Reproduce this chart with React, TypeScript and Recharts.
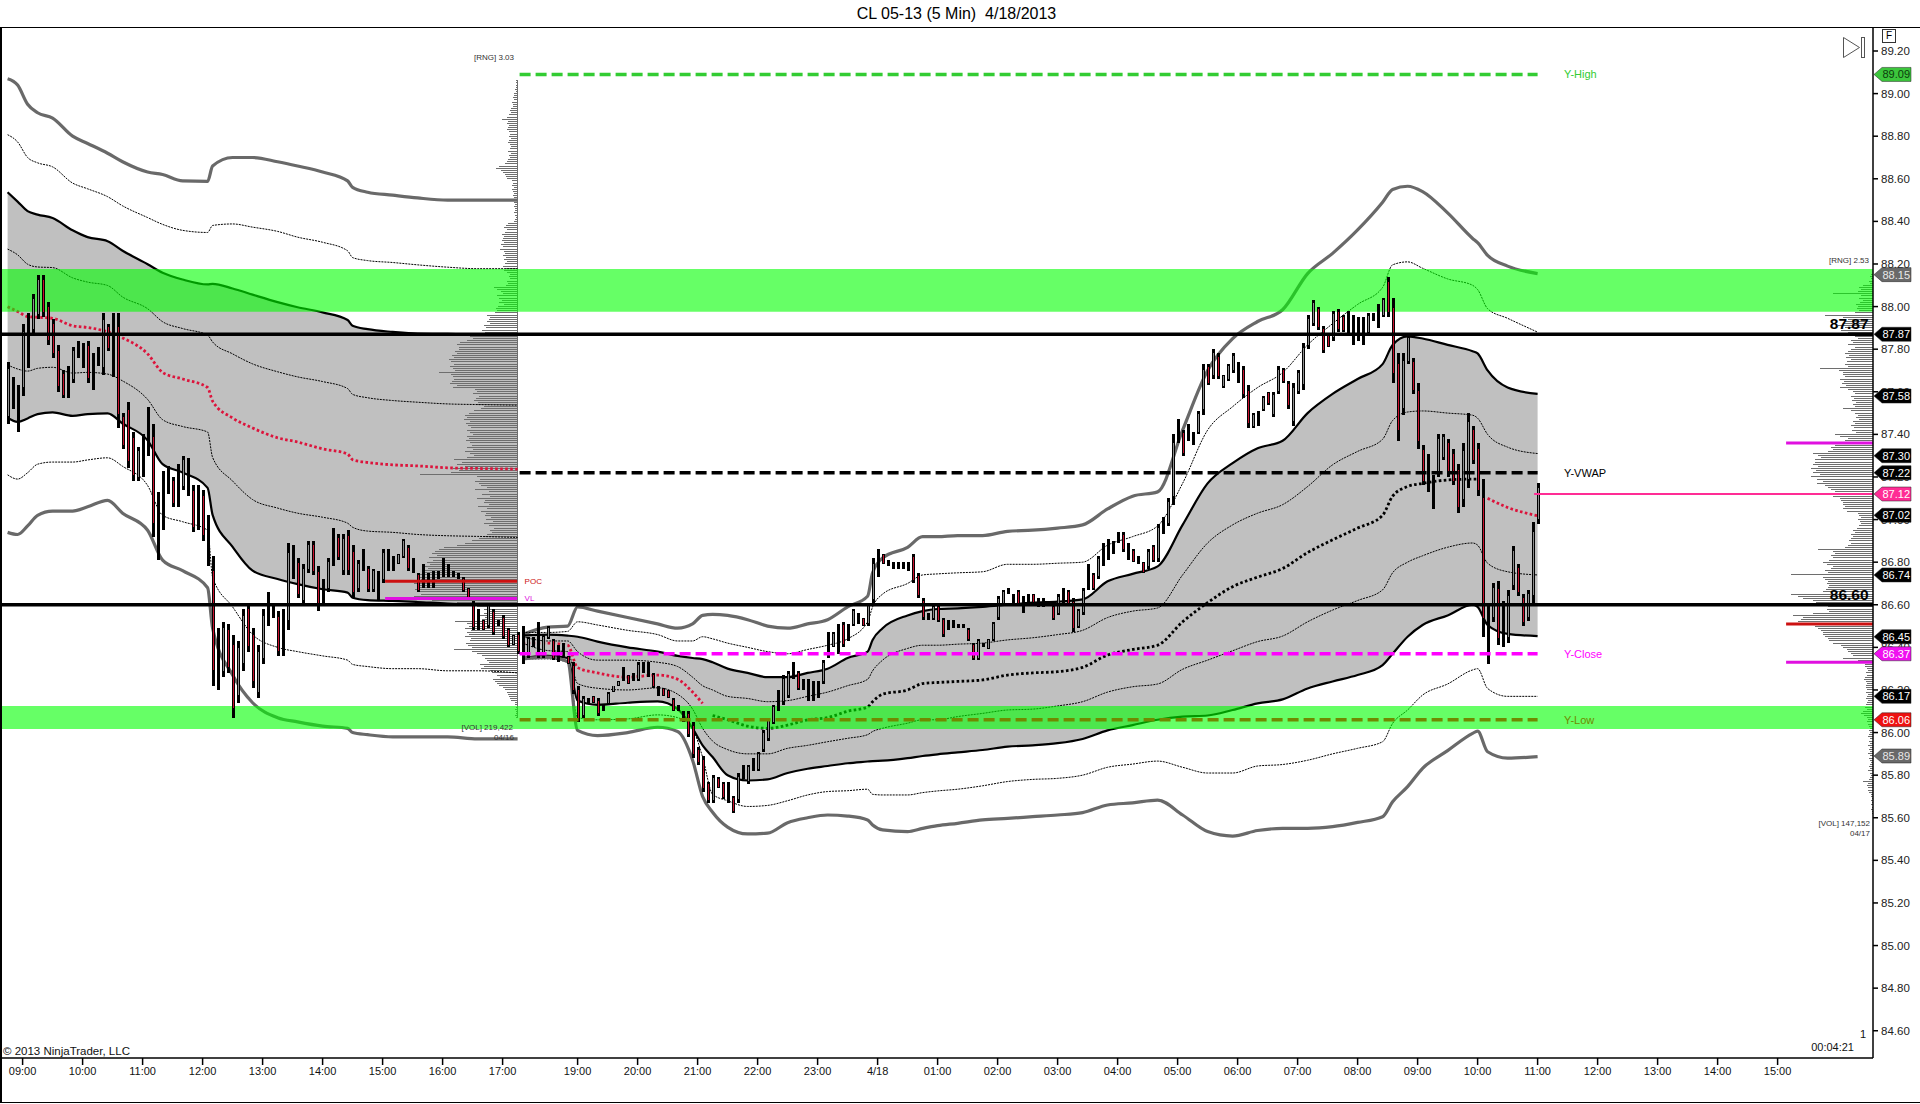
import React from 'react';
import { ComposedChart, Area, Bar, Line, XAxis, YAxis, ReferenceArea, ReferenceLine, ReferenceDot } from 'recharts';

const FONT = '"Liberation Sans", Arial, sans-serif';
const X_MIN = -1.12;
const X_MAX = 373.08;
const Y_MIN = 84.472;
const Y_MAX = 89.3127;

// one 5 min bar per index, 0 = 08:45 on 4/17
const highs = [
  87.74,87.67,87.63,87.92,87.97,88.06,88.15,88.15,88.02,87.94,
  87.82,87.70,87.72,87.81,87.84,87.83,87.84,87.78,87.81,87.97,
  87.92,87.97,87.97,87.50,87.55,87.41,87.34,87.40,87.53,87.45,
  87.13,87.23,87.25,87.20,87.26,87.30,87.29,87.16,87.16,87.14,
  87.02,86.83,86.49,86.52,86.51,86.46,86.43,86.58,86.61,86.49,
  86.41,86.58,86.66,86.61,86.57,86.58,86.89,86.88,86.82,86.79,
  86.90,86.90,86.78,86.72,86.82,86.96,86.93,86.93,86.95,86.88,
  86.81,86.86,86.78,86.77,86.76,86.86,86.86,86.83,86.84,86.91,
  86.88,86.82,86.75,86.79,86.75,86.76,86.76,86.82,86.79,86.76,
  86.75,86.73,86.68,86.62,86.58,86.53,86.61,86.58,86.53,86.55,
  86.49,86.46,86.47,86.50,86.45,86.45,86.52,86.46,86.50,86.44,
  86.41,86.42,86.36,86.33,86.22,86.17,86.16,86.17,86.16,86.13,
  86.19,86.22,86.24,86.31,86.27,86.28,86.33,86.33,86.33,86.28,
  86.22,86.21,86.20,86.16,86.13,86.10,86.10,86.05,85.93,85.89,
  85.77,85.80,85.79,85.77,85.77,85.70,85.81,85.85,85.85,85.88,
  85.91,86.01,86.07,86.13,86.20,86.27,86.29,86.33,86.29,86.25,
  86.25,86.24,86.24,86.34,86.47,86.47,86.51,86.52,86.51,86.58,
  86.56,86.54,86.61,86.82,86.86,86.84,86.81,86.80,86.80,86.80,
  86.80,86.84,86.75,86.63,86.56,86.60,86.60,86.54,86.53,86.53,
  86.51,86.51,86.49,86.42,86.44,86.42,86.44,86.52,86.64,86.67,
  86.68,86.65,86.67,86.64,86.65,86.65,86.63,86.63,86.62,86.60,
  86.65,86.68,86.67,86.63,86.58,86.68,86.79,86.75,86.83,86.89,
  86.91,86.90,86.94,86.94,86.89,86.86,86.83,86.80,86.86,86.88,
  86.98,87.01,87.10,87.40,87.47,87.42,87.45,87.41,87.51,87.73,
  87.73,87.80,87.78,87.68,87.73,87.78,87.74,87.72,87.63,87.50,
  87.51,87.58,87.60,87.60,87.72,87.71,87.65,87.64,87.70,87.83,
  87.96,88.03,88.00,87.91,87.87,87.98,87.99,87.96,87.98,87.96,
  87.95,87.95,87.97,87.97,88.01,88.04,88.14,88.04,87.78,87.78,
  87.87,87.76,87.64,87.35,87.31,87.21,87.40,87.40,87.38,87.33,
  87.26,87.36,87.50,87.44,87.36,87.19,86.61,86.70,86.71,86.62,
  86.67,86.875,86.79,86.65,86.67,86.99,87.17,
];
const lows = [
  87.45,87.52,87.41,87.58,87.71,87.87,87.94,87.95,87.82,87.76,
  87.60,87.57,87.57,87.64,87.76,87.71,87.64,87.61,87.72,87.68,
  87.79,87.67,87.43,87.33,87.24,87.18,87.18,87.20,87.30,86.92,
  86.81,86.95,87.12,87.06,87.06,87.14,87.11,86.94,86.95,86.90,
  86.78,86.22,86.20,86.26,86.28,86.07,86.14,86.29,86.38,86.21,
  86.16,86.32,86.50,86.54,86.36,86.36,86.48,86.72,86.63,86.60,
  86.75,86.74,86.57,86.60,86.66,86.78,86.81,86.74,86.74,86.63,
  86.66,86.76,86.66,86.66,86.62,86.70,86.76,86.76,86.79,86.82,
  86.76,86.75,86.66,86.68,86.68,86.68,86.72,86.73,86.73,86.73,
  86.72,86.66,86.63,86.48,86.48,86.48,86.49,86.46,86.50,86.44,
  86.40,86.41,86.37,86.32,86.35,86.40,86.35,86.35,86.44,86.34,
  86.33,86.35,86.32,86.18,86.05,86.07,86.14,86.14,86.08,86.10,
  86.13,86.19,86.22,86.24,86.23,86.24,86.24,86.28,86.26,86.21,
  86.17,86.17,86.16,86.10,86.10,86.05,85.98,85.88,85.85,85.72,
  85.67,85.67,85.74,85.69,85.67,85.62,85.67,85.78,85.76,85.82,
  85.82,85.91,85.96,86.04,86.10,86.13,86.16,86.25,86.20,86.20,
  86.15,86.15,86.16,86.23,86.35,86.40,86.37,86.40,86.43,86.50,
  86.51,86.50,86.50,86.60,86.73,86.79,86.78,86.77,86.77,86.77,
  86.76,86.70,86.63,86.53,86.53,86.53,86.52,86.45,86.48,86.49,
  86.49,86.49,86.43,86.34,86.34,86.40,86.39,86.43,86.53,86.60,
  86.65,86.61,86.60,86.56,86.61,86.61,86.59,86.59,86.60,86.53,
  86.55,86.61,86.60,86.47,86.49,86.55,86.67,86.67,86.72,86.78,
  86.81,86.84,86.89,86.85,86.81,86.80,86.79,86.75,86.77,86.80,
  86.80,86.93,86.97,87.07,87.36,87.30,87.37,87.35,87.40,87.49,
  87.63,87.66,87.66,87.62,87.65,87.69,87.64,87.57,87.43,87.43,
  87.44,87.51,87.54,87.48,87.59,87.64,87.52,87.44,87.59,87.61,
  87.80,87.91,87.89,87.78,87.81,87.84,87.88,87.88,87.87,87.82,
  87.84,87.82,87.87,87.93,87.90,87.95,87.95,87.64,87.37,87.49,
  87.73,87.59,87.33,87.16,87.13,87.05,87.20,87.28,87.20,87.16,
  87.03,87.06,87.15,87.26,87.11,86.45,86.32,86.52,86.41,86.40,
  86.42,86.67,86.64,86.50,86.525,86.60,86.98,
];
// r = down bar, g = up bar, k = no visible body
const tones =
  'gkkgkggrrr' + 'rrkgkkrkkg' + 'rkrrrrgkkr' + 'kkkrkgkrkr' + 'krkgrrggrr' + 'ggkkrkgkrg' +
  'grrkgkrgrr' + 'gkrgkgkkgg' + 'rkrkkkkkkk' + 'krrrkrgrkr' + 'rgrkgkkggr' + 'kkrrrgkrrk' +
  'gggkrkgkkr' + 'krrrkkrrrr' + 'rgrrkrgkgk' + 'ggggkggkrk' + 'kkkgkgkrkg' + 'krggkrkkkk' +
  'krrrkgrrkk' + 'kkrrgkgggg' + 'kkrkkrkkkr' + 'gkrrggkrgk' + 'kkkrkrkrgr' + 'gkggkrkkgg' +
  'rgrgggkrrg' + 'kgrggrrggg' + 'ggrrrgrrkk' + 'kkgkkgrrrg' + 'grrrkkggrr' + 'rggrrrkgrk' + 'ggrrggg';

// VWAP bands, first session
const samples1 = [0,2,4,6,9,13,16,20,23,28,31,35,40,41,45,49,54,58,63,68,69,72,77,82,88,94,102];
const upper3a = [89.07,89.04,88.95,88.91,88.885,88.80,88.766,88.72,88.68,88.632,88.62,88.59,88.588,88.66,88.70,88.70,88.68,88.66,88.632,88.59,88.56,88.537,88.523,88.51,88.50,88.50,88.50];
const upper2a = [88.807,88.773,88.70,88.675,88.656,88.58,88.553,88.516,88.473,88.418,88.386,88.358,88.348,88.381,88.388,88.373,88.353,88.326,88.302,88.262,88.23,88.216,88.207,88.196,88.185,88.178,88.178];
const upper1a = [88.537,88.493,88.448,88.432,88.416,88.358,88.326,88.307,88.262,88.199,88.159,88.127,88.104,88.107,88.085,88.056,88.021,87.997,87.973,87.937,87.91,87.894,87.881,87.873,87.872,87.869,87.869];
const upperHalfA = [88.27,88.243,88.199,88.186,88.183,88.135,88.115,88.099,88.045,87.99,87.929,87.897,87.866,87.834,87.778,87.731,87.694,87.67,87.648,87.615,87.588,87.572,87.559,87.551,87.543,87.54,87.537];
const vwapA = [87.999,87.977,87.953,87.95,87.945,87.91,87.902,87.881,87.853,87.778,87.691,87.66,87.62,87.556,87.477,87.43,87.384,87.364,87.332,87.308,87.281,87.268,87.257,87.252,87.243,87.24,87.237];
const lowerHalfA = [87.726,87.707,87.697,87.71,87.715,87.688,87.691,87.683,87.651,87.564,87.469,87.437,87.411,87.292,87.181,87.094,87.054,87.03,87.011,86.983,86.964,86.946,86.94,86.93,86.924,86.921,86.916];
const lower1a = [87.478,87.459,87.475,87.495,87.503,87.487,87.495,87.499,87.451,87.372,87.26,87.221,87.149,87.022,86.872,86.76,86.721,86.697,86.673,86.657,86.633,86.622,86.618,86.613,86.606,86.602,86.599];
const lower2a = [87.21,87.19,87.22,87.26,87.27,87.27,87.28,87.29,87.25,87.16,87.02,86.99,86.95,86.73,86.59,86.46,86.40,86.38,86.36,86.34,86.32,86.31,86.30,86.30,86.29,86.29,86.28];
const lower3a = [86.94,86.93,86.97,87.02,87.04,87.04,87.06,87.09,87.03,86.95,86.81,86.76,86.68,86.49,86.27,86.14,86.07,86.05,86.03,86.02,86.00,85.99,85.98,85.98,85.98,85.97,85.97];

// VWAP bands, second session
const samples2 = [103,108,112,114,118,124,130,134,137,139,141,144,148,152,156,160,164,168,172,173,175,180,183,186,190,195,200,205,210,215,220,225,230,235,240,245,250,255,260,265,270,275,277,280,283,288,293,294,296,300,306];
const upper3b = [86.46,86.495,86.50,86.59,86.57,86.54,86.51,86.49,86.51,86.55,86.555,86.55,86.53,86.50,86.49,86.51,86.53,86.59,86.64,86.75,86.82,86.87,86.92,86.92,86.925,86.925,86.945,86.95,86.96,86.975,87.05,87.11,87.13,87.42,87.70,87.85,87.93,87.985,88.155,88.25,88.36,88.49,88.55,88.565,88.54,88.44,88.32,88.30,88.24,88.19,88.155];
const upper2b = [86.47,86.47,86.475,86.52,86.505,86.48,86.46,86.43,86.43,86.45,86.44,86.42,86.40,86.38,86.37,86.39,86.41,86.44,86.52,86.59,86.65,86.70,86.74,86.745,86.75,86.755,86.79,86.79,86.795,86.80,86.88,86.92,86.97,87.17,87.42,87.53,87.62,87.69,87.82,87.92,88.01,88.09,88.196,88.21,88.18,88.13,88.10,88.08,87.99,87.945,87.88];
const upper1b = [86.455,86.46,86.455,86.45,86.427,86.40,86.38,86.36,86.35,86.345,86.33,86.30,86.28,86.26,86.26,86.28,86.30,86.35,86.38,86.435,86.49,86.55,86.57,86.58,86.583,86.59,86.60,86.61,86.615,86.625,86.71,86.745,86.78,86.975,87.17,87.265,87.335,87.37,87.50,87.59,87.66,87.73,87.82,87.86,87.85,87.82,87.79,87.78,87.70,87.62,87.59];
const upperHalfB = [86.45,86.43,86.43,86.38,86.34,86.34,86.33,86.31,86.26,86.22,86.20,86.17,86.16,86.145,86.15,86.17,86.19,86.22,86.25,86.29,86.34,86.395,86.41,86.41,86.415,86.42,86.435,86.445,86.46,86.48,86.54,86.57,86.585,86.74,86.89,86.975,87.03,87.07,87.155,87.257,87.32,87.377,87.465,87.505,87.51,87.50,87.49,87.476,87.40,87.34,87.31];
const vwapB = [86.42,86.42,86.41,86.305,86.28,86.26,86.27,86.25,86.19,86.137,86.08,86.06,86.03,86.02,86.035,86.06,86.07,86.10,86.12,86.145,86.18,86.20,86.23,86.235,86.24,86.247,86.27,86.28,86.286,86.306,86.364,86.39,86.41,86.52,86.61,86.685,86.73,86.77,86.845,86.905,86.96,87.02,87.11,87.155,87.17,87.186,87.19,87.19,87.10,87.057,87.018];
const lowerHalfB = [86.42,86.385,86.38,86.23,86.208,86.20,86.21,86.18,86.11,86.02,85.96,85.92,85.90,85.90,85.926,85.94,85.957,85.973,85.99,86.005,86.02,86.044,86.06,86.06,86.075,86.09,86.106,86.11,86.125,86.145,86.19,86.215,86.228,86.297,86.34,86.384,86.427,86.453,86.52,86.575,86.62,86.67,86.75,86.80,86.83,86.87,86.89,86.88,86.795,86.755,86.74];
const lower1b = [86.35,86.36,86.35,86.15,86.13,86.14,86.146,86.11,86.02,85.94,85.885,85.80,85.775,85.78,85.81,85.83,85.843,85.856,85.864,85.866,85.868,85.88,85.89,85.898,85.907,85.918,85.934,85.94,85.95,85.97,86.01,86.035,86.06,86.075,86.08,86.106,86.137,86.156,86.207,86.24,86.27,86.317,86.37,86.45,86.505,86.55,86.60,86.59,86.505,86.463,86.453];
const lower2b = [86.346,86.346,86.33,86.07,86.06,86.064,86.083,86.07,86.017,85.885,85.71,85.68,85.653,85.658,85.68,85.707,85.723,85.727,85.734,85.71,85.707,85.707,85.718,85.726,85.734,85.75,85.77,85.78,85.785,85.80,85.837,85.852,85.866,85.837,85.81,85.81,85.843,85.85,85.87,85.90,85.926,85.957,86.043,86.106,86.176,86.228,86.294,86.30,86.207,86.17,86.17];
const lower3b = [86.346,86.354,86.333,86.01,85.986,86.0,86.025,86.005,85.87,85.70,85.626,85.556,85.524,85.528,85.577,85.60,85.613,85.608,85.59,85.566,85.543,85.535,85.55,85.563,85.574,85.59,85.597,85.605,85.613,85.624,85.66,85.67,85.683,85.613,85.535,85.514,85.54,85.55,85.55,85.558,85.578,85.605,85.675,85.746,85.832,85.915,85.996,86.007,85.91,85.88,85.887];

// volume at price, one value per 0.01 tick from the top price down
const profile1Top = 89.06;
const profile1 = [
  1,1,1,1,2,1, 3,3,4,3,5,4,4, 6,7,6,8,10, 15, 9,10,8,9,10,8,
  7,8,6,8,9,7,6,7,9,6,8,7,9, 10,12,18, 21, 16,14,12,11,10,
  5,4,5,3,5,4,3,4,3,4, 3,2,3, 2,2,3,2,1,2,3, 9,11,13,10,12,15,13,
  14,15,13,16,14,17,13, 12,14,11,13,10,12,14,11,13,10, 7,8,7, 10,9,11,
  23,20,16,14,20,18, 15,18,13,19,21, 20,22,30,27, 28,30,27, 33,31,35,32,34,
  47,44,50, 57,60,58, 58,62,60,65,63, 68,66,63,67,64, 62,78,66,64,63, 65,67,60,64,
  42,40,44,38,41,43,39,40, 33,36,43, 48,52,50,53,47,51, 49,46,50,47,44, 50,48,51,47,
  45,50,44,52,47,43,50, 63, 55,60,52,64,58,66, 97, 40,37,42,38,36,
  30,42,28,35,27,40,32, 33,28,39,30,36,31, 32, 26,31,24,33,28,23,27,25,30,
  33,38,45,52,60,73, 78,82,85,80,88,84,90,87,92,89,93,
  95,98,100,96,100,103,99,97,102,100,96,103,98, 85,60,50,40,33,30, 33,38,32,35,62,
  50,48,52,46,50, 48, 52,46, 47,51,49,45, 63, 45,40,35,32,30,28, 37,33, 36, 27,25, 20,17,
  24,22,20,18, 14,12,10,9,8,7,6, 2,2,1,2,1,1,2,1,
];
const profile2Top = 88.15;
const profile2 = [
  2,3,2,4,3, 10,14,12,15, 40, 12,14,10,13,17,15, 16,14,18, 48,30,25,28, 30,35,28,32,25,
  20,18,15,22, 20,25,18,22, 25,28,24,27,22,26,28,25, 53, 34,30, 30,28,33,29,31,27,33,
  25,20,18,22,19,21,17,20,18, 30, 22,18,15,17,14, 20,18,22,19,21,17, 38,33,25, 28,30,
  38,42,40,45, 60, 55,52,58, 58,60,55,62,57,60,53,62,56, 50,56,48,45, 42,38,35,40,
  33,32,30, 30,28,30,26, 15,14,12,15,13,12,14, 16,20,18,22, 20,22,24,22,25,28, 55,
  40,38,42,40,44,50,46,40,42,48,45, 82, 50,48,45,46,44,45,47,50, 82, 75,70,60,57,55,
  45,46,44,60,80, 70,72,75, 60,58,55,52,50, 50,48,45,44, 40,32,30,26, 25,22,20, 30,15,10,
  8,8,6, 5,7,6,8,9,7,6,7,7,6, 7,5,6,7,5,6,7, 8,6,10,12,9,6,5,6, 5,4,3,4,3,4,5,3,4,3,
  5,3,4,3,5,3,4,3,2,3,4,3,5,3,2,3,4, 10,5,6,5, 5,4,2,2,1,2,1,2,1,2,1,1,
];

const priceTicks = [89.2,89,88.8,88.6,88.4,88.2,88,87.8,87.6,87.4,87.2,87,86.8,86.6,86.4,86.2,86,85.8,85.6,85.4,85.2,85,84.8,84.6];
const timeTicks = [3,15,27,39,51,63,75,87,99,114,126,138,150,162,174,186,198,210,222,234,246,258,270,282,294,306,318,330,342,354];
const timeLabels = ['09:00','10:00','11:00','12:00','13:00','14:00','15:00','16:00','17:00','19:00','20:00','21:00','22:00','23:00','4/18','01:00','02:00','03:00','04:00','05:00','06:00','07:00','08:00','09:00','10:00','11:00','12:00','13:00','14:00','15:00'];

// price flags on the right axis: price, fill, text colour
const flags: [number, string, string][] = [
  [89.09,'#3cc63c','#0c3d0c'],[88.15,'#696969','#e8e8e8'],[87.87,'#000','#fff'],[87.58,'#000','#fff'],
  [87.30,'#000','#fff'],[87.22,'#000','#fff'],[87.12,'#ff2d95','#fff'],[87.02,'#000','#fff'],
  [86.74,'#000','#fff'],[86.45,'#000','#fff'],[86.37,'#f010f0','#fff'],[86.17,'#000','#fff'],
  [86.06,'#ee1111','#fff'],[85.89,'#696969','#e8e8e8'],
];
// prior day levels: label, price, colour
const priorDay: [string, number, string][] = [
  ['Y-High',89.09,'#33cc33'],['Y-VWAP',87.22,'#000'],['Y-Close',86.37,'#ff00ff'],['Y-Low',86.06,'#708a00'],
];

const rows = (samples: number[], cols: Record<string, number[]>) =>
  samples.map((k, i) => {
    const row: any = { k };
    Object.keys(cols).forEach((c) => { row[c] = cols[c][i]; });
    row.fill = [cols.l1[i], cols.u1[i]];
    return row;
  });
const sessionA = rows(samples1, { u3: upper3a, u2: upper2a, u1: upper1a, uh: upperHalfA, v: vwapA, lh: lowerHalfA, l1: lower1a, l2: lower2a, l3: lower3a });
const sessionB = rows(samples2, { u3: upper3b, u2: upper2b, u1: upper1b, uh: upperHalfB, v: vwapB, lh: lowerHalfB, l1: lower1b, l2: lower2b, l3: lower3b });
const candles = highs.map((h, i) => ({ k: i, range: [lows[i], h], tone: tones[i] }));

// zigzag along the right edge so a profile can be one Line
const zigzag = (vols: number[], top: number, right: number) =>
  vols.flatMap((v, i) => {
    const y = top - i * 0.01;
    return [{ k: right, y }, { k: right - v / 5, y }, { k: right, y }];
  });

const bandStyles: [string, string, number, string?][] = [
  ['u3','#696969',3.2],['u2','#000',1,'2 1'],['u1','#000',2.2],['uh','#000',1,'2 1'],
  ['lh','#000',1,'2 1'],['l1','#000',2.2],['l2','#000',1,'2 1'],['l3','#696969',3.2],
];

const TONE: Record<string, string> = { r: '#c8102e', g: '#8c8c8c', k: '#000' };
function Candle(props: any) {
  const { x, y, width, height, payload } = props;
  const t = (payload && payload.tone) || 'k';
  const cx = Math.round(x + width / 2);
  return (
    <g shapeRendering="crispEdges">
      <rect x={cx - 1.5} y={y} width={3} height={height} fill="#000" />
      <rect x={cx - 0.5} y={y + height * 0.12} width={1} height={height * 0.76} fill={TONE[t]} />
    </g>
  );
}

function Flag(props: any) {
  const { cy, price, fill, color } = props;
  const x0 = 1874;
  return (
    <g>
      <path d={`M${x0} ${cy} L${x0 + 8} ${cy - 7} H${x0 + 37} V${cy + 7} H${x0 + 8} Z`} fill={fill} stroke="#222" strokeWidth={0.5} />
      <text x={x0 + 8.5} y={cy + 4} fontFamily={FONT} fontSize={11} fill={color}>{price.toFixed(2)}</text>
    </g>
  );
}

function Note(props: any) {
  const { cx, cy, text, color, size, bold, anchor } = props;
  return (
    <text x={cx} y={cy} dy={size * 0.35} fontFamily={FONT} fontSize={size} fontWeight={bold ? 'bold' : 'normal'} fill={color} textAnchor={anchor || 'start'}>
      {text}
    </text>
  );
}

const abs = (left: number, top: number, extra: any = {}) => ({ position: 'absolute' as const, left, top, fontFamily: FONT, lineHeight: 1, whiteSpace: 'pre' as const, ...extra });

export default function App() {
  return (
    <div style={{ position: 'absolute', left: 0, top: 0, width: 1920, height: 1104, background: '#fff', overflow: 'hidden' }}>
      <div style={abs(0, 6, { width: 1913, textAlign: 'center', fontSize: 16 })}>CL 05-13 (5 Min)  4/18/2013</div>
      <ComposedChart
        width={1920}
        height={1104}
        data={candles}
        margin={{ top: 27, right: 0, bottom: 0, left: 2 }}
        style={{ position: 'absolute', left: 0, top: 0 }}
      >
        <XAxis
          dataKey="k"
          type="number"
          domain={[X_MIN, X_MAX]}
          allowDataOverflow
          ticks={timeTicks}
          interval={0}
          height={46}
          tickSize={7}
          tickMargin={2}
          stroke="#000"
          strokeWidth={1.5}
          tick={{ fontFamily: FONT, fontSize: 11, fill: '#111' }}
          tickFormatter={(v: number) => timeLabels[timeTicks.indexOf(v)]}
        />
        <YAxis
          orientation="right"
          type="number"
          domain={[Y_MIN, Y_MAX]}
          allowDataOverflow
          ticks={priceTicks}
          interval={0}
          width={47}
          tickSize={5}
          tickMargin={3}
          stroke="#000"
          strokeWidth={1.5}
          tick={{ fontFamily: FONT, fontSize: 11.5, fill: '#222' }}
          tickFormatter={(v: number) => v.toFixed(2)}
        />

        <Area data={sessionA} dataKey="fill" type="monotone" fill="#c0c0c0" fillOpacity={1} stroke="none" isAnimationActive={false} zIndex={100} />
        <Area data={sessionB} dataKey="fill" type="monotone" fill="#c0c0c0" fillOpacity={1} stroke="none" isAnimationActive={false} zIndex={100} />

        <Line data={zigzag(profile1, profile1Top, 101.9)} dataKey="y" stroke="#6e6e6e" strokeWidth={1} dot={false} isAnimationActive={false} shapeRendering="crispEdges" zIndex={110} />
        <Line data={zigzag(profile2, profile2Top, X_MAX)} dataKey="y" stroke="#6e6e6e" strokeWidth={1} dot={false} isAnimationActive={false} shapeRendering="crispEdges" zIndex={110} />

        {[sessionA, sessionB].map((session, s) =>
          bandStyles.map(([key, stroke, width, dash]) => (
            <Line key={`${s}${key}`} data={session} dataKey={key} type="monotone" stroke={stroke} strokeWidth={width} strokeDasharray={dash} dot={false} isAnimationActive={false} zIndex={120} />
          )),
        )}
        <Line data={sessionA} dataKey="v" type="monotone" stroke="#dc143c" strokeWidth={2.8} strokeDasharray="2.6 2.4" dot={false} isAnimationActive={false} zIndex={120} />
        <Line data={sessionB.filter((r) => r.k <= 139)} dataKey="v" type="monotone" stroke="#dc143c" strokeWidth={2.8} strokeDasharray="2.6 2.4" dot={false} isAnimationActive={false} zIndex={120} />
        <Line data={sessionB.filter((r) => r.k >= 141 && r.k <= 294)} dataKey="v" type="monotone" stroke="#000" strokeWidth={2.8} strokeDasharray="2.6 2.4" dot={false} isAnimationActive={false} zIndex={120} />
        <Line data={sessionB.filter((r) => r.k >= 296)} dataKey="v" type="monotone" stroke="#dc143c" strokeWidth={2.8} strokeDasharray="2.6 2.4" dot={false} isAnimationActive={false} zIndex={120} />

        <ReferenceArea y1={87.976} y2={88.177} fill="#00ff00" fillOpacity={0.6} stroke="none" zIndex={130} />
        <ReferenceArea y1={86.017} y2={86.125} fill="#00ff00" fillOpacity={0.6} stroke="none" zIndex={130} />

        <Bar dataKey="range" barSize={3} shape={Candle} isAnimationActive={false} zIndex={300} />

        <ReferenceLine y={87.87} stroke="#000" strokeWidth={3.5} zIndex={350} />
        <ReferenceLine y={86.6} stroke="#000" strokeWidth={3.5} zIndex={350} />

        {priorDay.map(([label, price, color]) => (
          <ReferenceLine key={label} segment={[{ x: 102.4, y: price }, { x: 306, y: price }]} stroke={color} strokeWidth={3.5} strokeDasharray="11 5" zIndex={350} />
        ))}
        <ReferenceLine segment={[{ x: 75.5, y: 86.71 }, { x: 101.9, y: 86.71 }]} stroke="#cc1111" strokeWidth={3} zIndex={340} />
        <ReferenceLine segment={[{ x: 75.5, y: 86.63 }, { x: 101.9, y: 86.63 }]} stroke="#e010e0" strokeWidth={3} zIndex={340} />
        <ReferenceLine segment={[{ x: 355.7, y: 87.36 }, { x: X_MAX, y: 87.36 }]} stroke="#e010e0" strokeWidth={3} zIndex={340} />
        <ReferenceLine segment={[{ x: 355.7, y: 86.51 }, { x: X_MAX, y: 86.51 }]} stroke="#cc1111" strokeWidth={3} zIndex={340} />
        <ReferenceLine segment={[{ x: 355.7, y: 86.33 }, { x: X_MAX, y: 86.33 }]} stroke="#e010e0" strokeWidth={3} zIndex={340} />
        <ReferenceLine segment={[{ x: 305.3, y: 87.12 }, { x: X_MAX, y: 87.12 }]} stroke="#ff2d95" strokeWidth={2} zIndex={340} />

        {priorDay.map(([label, price, color]) => (
          <ReferenceDot key={label} x={311.3} y={price} r={0} ifOverflow="visible" zIndex={2000}
            shape={(p: any) => <Note {...p} text={label} color={color} size={11} />} />
        ))}
        <ReferenceDot x={103.4} y={86.71} r={0} ifOverflow="visible" zIndex={2000} shape={(p: any) => <Note {...p} text="POC" color="#cc1111" size={8} />} />
        <ReferenceDot x={103.4} y={86.63} r={0} ifOverflow="visible" zIndex={2000} shape={(p: any) => <Note {...p} text="VL" color="#e010e0" size={8} />} />
        <ReferenceDot x={372.2} y={87.92} r={0} ifOverflow="visible" zIndex={2000} shape={(p: any) => <Note {...p} text="87.87" color="#000" size={15.5} bold anchor="end" />} />
        <ReferenceDot x={372.2} y={86.65} r={0} ifOverflow="visible" zIndex={2000} shape={(p: any) => <Note {...p} text="86.60" color="#000" size={15.5} bold anchor="end" />} />

        {flags.map(([price, fill, color]) => (
          <ReferenceDot key={price} x={X_MAX} y={price} r={0} ifOverflow="visible" zIndex={2100}
            shape={(p: any) => <Flag {...p} price={price} fill={fill} color={color} />} />
        ))}
      </ComposedChart>

      <div style={{ position: 'absolute', left: 0, top: 27, width: 1920, height: 1076, borderTop: '1px solid #000', borderLeft: '2px solid #000', borderBottom: '1.5px solid #000', boxSizing: 'border-box', pointerEvents: 'none' }} />
      <div style={abs(1882, 29, { width: 12, height: 12, border: '1px solid #333', fontSize: 10, textAlign: 'center', lineHeight: '12px' })}>F</div>
      <svg style={{ position: 'absolute', left: 1840, top: 34 }} width={30} height={26}>
        <path d="M3.5 3.5 L19.5 13.5 L3.5 23.5 Z" fill="#fff" stroke="#555" />
        <rect x={21.5} y={3.5} width={3} height={20} fill="#fff" stroke="#555" />
      </svg>
      <div style={abs(0, 54, { width: 514, textAlign: 'right', fontSize: 8, color: '#333' })}>[RNG] 3.03</div>
      <div style={abs(0, 724, { width: 513, textAlign: 'right', fontSize: 8, color: '#333' })}>[VOL] 219,422</div>
      <div style={abs(0, 734, { width: 514, textAlign: 'right', fontSize: 8, color: '#333' })}>04/16</div>
      <div style={abs(0, 257, { width: 1869, textAlign: 'right', fontSize: 8, color: '#333' })}>[RNG] 2.53</div>
      <div style={abs(0, 820, { width: 1870, textAlign: 'right', fontSize: 8, color: '#333' })}>[VOL] 147,152</div>
      <div style={abs(0, 830, { width: 1870, textAlign: 'right', fontSize: 8, color: '#333' })}>04/17</div>
      <div style={abs(3, 1046, { fontSize: 11.5, color: '#111' })}>© 2013 NinjaTrader, LLC</div>
      <div style={abs(0, 1042, { width: 1854, textAlign: 'right', fontSize: 11, color: '#111' })}>00:04:21</div>
      <div style={abs(1860, 1029, { fontSize: 11, color: '#111' })}>1</div>
    </div>
  );
}
